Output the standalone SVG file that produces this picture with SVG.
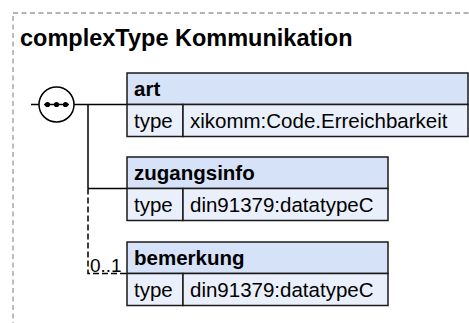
<svg xmlns="http://www.w3.org/2000/svg" width="469" height="323" viewBox="0 0 469 323">
<style>
text{font-family:"Liberation Sans",Arial,sans-serif;fill:#000}
.title{font-size:23.5px;font-weight:bold}
.hd{font-size:20.5px;font-weight:bold}
.tx{font-size:20.5px}
.hdr{fill:#d6e2f8;stroke:#1a1a1a;stroke-width:1.5}
.row{fill:#eaf0fb;stroke:#1a1a1a;stroke-width:1.5}
.ln{stroke:#000;stroke-width:1.5;fill:none}
.dash{stroke:#000;stroke-width:1.5;fill:none;stroke-dasharray:6,3}
.frame{stroke:#9a9a9a;stroke-width:1.3;fill:none;stroke-dasharray:5,3.5}
</style>
<rect class="frame" x="13" y="13" width="480" height="340"/>
<text class="title" x="20" y="46">complexType Kommunikation</text>
<g id="connectors">
<line class="ln" x1="31" y1="104.5" x2="39" y2="104.5"/>
<line class="ln" x1="74" y1="104.5" x2="127" y2="104.5"/>
<line class="ln" x1="88" y1="104.5" x2="88" y2="188.5"/>
<line class="ln" x1="88" y1="188.5" x2="127" y2="188.5"/>
<path class="dash" d="M88 188.5 V273.5 H127"/>
<text class="tx" x="90" y="271.5" style="font-size:19px">0..1</text>
</g>
<g id="sequence">
<circle cx="56.5" cy="104.5" r="17.5" fill="#fff" stroke="#000" stroke-width="1.5"/>
<line class="ln" x1="44" y1="104.5" x2="69" y2="104.5"/>
<circle cx="47.5" cy="104.5" r="2.6"/>
<circle cx="56.5" cy="104.5" r="2.6"/>
<circle cx="65.5" cy="104.5" r="2.6"/>
</g>
<g id="art">
<rect class="hdr" x="127" y="73" width="341" height="31.5"/>
<rect class="row" x="127" y="104.5" width="56" height="32"/>
<rect class="row" x="183" y="104.5" width="285" height="32"/>
<text class="hd" x="134" y="95.5">art</text>
<text class="tx" x="134" y="128">type</text>
<text class="tx" x="190" y="128">xikomm:Code.Erreichbarkeit</text>
</g>
<g id="zugangsinfo">
<rect class="hdr" x="127" y="157" width="261" height="31.5"/>
<rect class="row" x="127" y="188.5" width="56" height="32"/>
<rect class="row" x="183" y="188.5" width="205" height="32"/>
<text class="hd" x="134" y="179.5">zugangsinfo</text>
<text class="tx" x="134" y="212">type</text>
<text class="tx" x="190" y="212">din91379:datatypeC</text>
</g>
<g id="bemerkung">
<rect class="hdr" x="127" y="242" width="261" height="31.5"/>
<rect class="row" x="127" y="273.5" width="56" height="32"/>
<rect class="row" x="183" y="273.5" width="205" height="32"/>
<text class="hd" x="134" y="264.5">bemerkung</text>
<text class="tx" x="134" y="297">type</text>
<text class="tx" x="190" y="297">din91379:datatypeC</text>
</g>
</svg>
